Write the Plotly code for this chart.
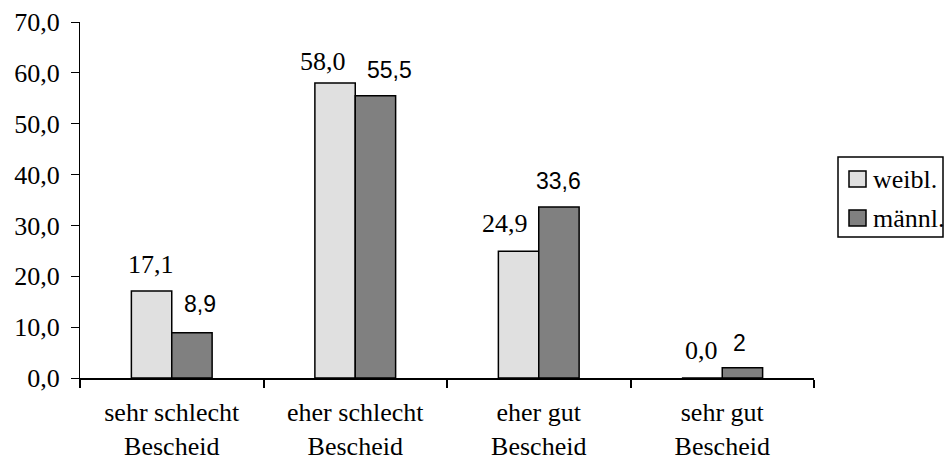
import plotly.graph_objects as go

# Survey answers: how well respondents feel informed, by gender (percent)
categories = ["sehr schlecht<br>Bescheid", "eher schlecht<br>Bescheid",
              "eher gut<br>Bescheid", "sehr gut<br>Bescheid"]
weibl = [17.1, 58.0, 24.9, 0.0]
maennl = [8.9, 55.5, 33.6, 2]
series_names = ["weibl.", "männl."]

y_ticks = [0, 10, 20, 30, 40, 50, 60, 70]

W, H = 945, 464
ML, MR, MT, MB = 80, 131, 22, 86
SERIF = "Liberation Serif, Times New Roman, serif"
SANS = "Liberation Sans, Arial, sans-serif"
LIGHT, DARK = "#e0e0e0", "#808080"

fig = go.Figure()
fig.add_bar(x=categories, y=weibl, name=series_names[0],
            marker=dict(color=LIGHT, line=dict(color="black", width=1.5)))
fig.add_bar(x=categories, y=maennl, name=series_names[1],
            marker=dict(color=DARK, line=dict(color="black", width=1.5)))

# value labels above the bars (offsets in pixels: bar half-slot + nudge, height)
half = 20.3
w_nudge = [(0, 27), (-12, 22), (-13, 28), (0, 28)]
m_nudge = [(8, 29), (14, 26), (-1, 26), (-3, 25)]
for cat, v, (dx, dy) in zip(categories, weibl, w_nudge):
    fig.add_annotation(x=cat, y=v, text=f"{v:.1f}".replace(".", ","),
                       showarrow=False, xshift=-half + dx, yshift=dy,
                       yanchor="middle",
                       font=dict(family=SERIF, size=26, color="black"))
for cat, v, (dx, dy) in zip(categories, maennl, m_nudge):
    fig.add_annotation(x=cat, y=v, text=f"{v:g}".replace(".", ","),
                       showarrow=False, xshift=half + dx, yshift=dy,
                       yanchor="middle",
                       font=dict(family=SANS, size=23, color="black"))

# boxed legend on the right
pw, ph = W - ML - MR, H - MT - MB


def px(x):
    return (x - ML) / pw


def py(y):
    return (H - MB - y) / ph


fig.add_shape(type="rect", xref="paper", yref="paper",
              x0=px(838), x1=px(943), y0=py(237), y1=py(157),
              line=dict(color="black", width=1.5), fillcolor="white")
for name, col, cy in zip(series_names, [LIGHT, DARK], [179, 218]):
    fig.add_shape(type="rect", xref="paper", yref="paper",
                  x0=px(849), x1=px(866), y0=py(cy + 8), y1=py(cy - 8),
                  line=dict(color="black", width=1.5), fillcolor=col)
    fig.add_annotation(xref="paper", yref="paper", x=px(871), y=py(cy),
                       text=name, showarrow=False, xanchor="left",
                       yanchor="middle",
                       font=dict(family=SERIF, size=26, color="black"))

fig.update_layout(
    width=W, height=H,
    margin=dict(l=ML, r=MR, t=MT, b=MB, pad=0, autoexpand=False),
    paper_bgcolor="white", plot_bgcolor="white",
    barmode="group", bargap=0.56, bargroupgap=0,
    separators=",.",
    showlegend=False,
    font=dict(family=SERIF, size=26, color="black"),
)
fig.update_xaxes(
    automargin=False,
    showgrid=False, showline=True, linecolor="black", linewidth=2,
    ticks="outside", tickson="boundaries", ticklen=8, tickwidth=2,
    tickcolor="black", ticklabelstandoff=10,
    tickfont=dict(family=SERIF, size=26, color="black"),
)
fig.update_yaxes(
    automargin=False,
    range=[0, 70], tickvals=y_ticks, tickformat=".1f",
    showgrid=False, showline=True, linecolor="black", linewidth=1,
    ticks="outside", ticklen=8, tickwidth=1, tickcolor="black",
    zeroline=False, ticklabelstandoff=6,
    tickfont=dict(family=SERIF, size=26, color="black"),
)

fig.write_html("out.html")
